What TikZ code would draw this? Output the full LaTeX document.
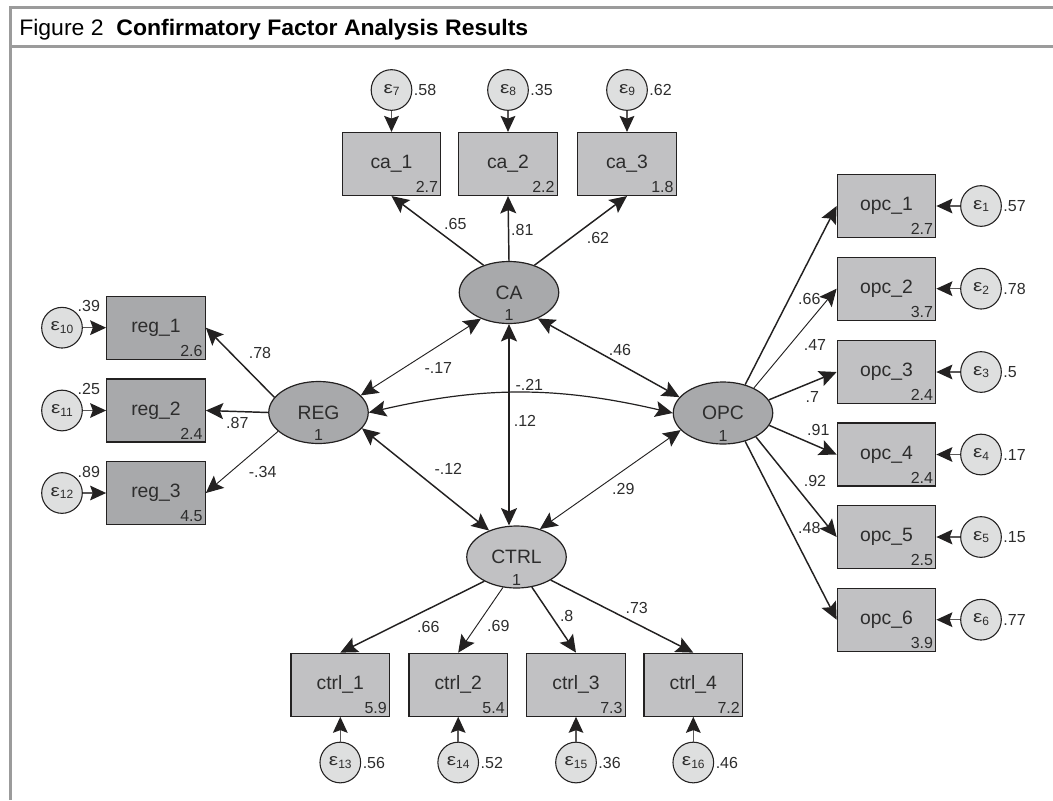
\documentclass[tikz,border=0pt]{standalone}
\usepackage{fontspec}
\setmainfont{Liberation Sans}
\usetikzlibrary{arrows.meta,shapes.geometric}
\definecolor{boxlight}{RGB}{193,193,195}
\definecolor{boxdark}{RGB}{168,169,171}
\definecolor{errfill}{RGB}{222,223,223}
\definecolor{ink}{RGB}{35,33,33}
\definecolor{txt}{RGB}{45,45,45}
\definecolor{framegray}{RGB}{155,155,155}
\newcommand{\epsl}[1]{\scalebox{1.25}[1]{ε}\raisebox{-0.3ex}{\fontsize{9}{9}\selectfont #1}}
\begin{document}
\begin{tikzpicture}[x=0.75pt,y=-0.75pt,
  obs/.style={draw=ink, line width=0.9pt, rectangle, minimum width=73.9pt, minimum height=47.2pt, inner sep=0pt, font=\fontsize{14.5}{14.5}\selectfont, text=txt},
  obsL/.style={obs, fill=boxlight},
  obsD/.style={obs, fill=boxdark},
  lat/.style={draw=ink, line width=0.9pt, ellipse, minimum width=74.6pt, minimum height=46.5pt, inner sep=0pt, font=\fontsize{14.5}{14.5}\selectfont, text=txt},
  err/.style={draw=ink, line width=0.8pt, circle, fill=errfill, minimum size=30.5pt, inner sep=0pt, font=\fontsize{12.5}{12.5}\selectfont, text=txt},
  num/.style={font=\fontsize{12}{12}\selectfont, text=txt, inner sep=1pt},
  cnum/.style={num, anchor=south east, inner sep=2.3pt},
  enum/.style={num, anchor=west, inner sep=1pt},
  tip/.tip={Stealth[length=13pt,width=12pt,inset=2.5pt]},
  errtip/.tip={Stealth[length=12pt,width=11pt,inset=2pt,color=ink]},
  thk/.style={draw=ink, line width=1.1pt, -tip},
  thn/.style={draw=ink, line width=0.7pt, -tip},
  both/.style={tip-tip},
  erra/.style={draw=ink!75, line width=1.1pt, -errtip}
]
\useasboundingbox (0,0) rectangle (1053,800);
% frame
\draw[framegray, line width=2.25pt] (10.5,800) -- (10.5,7.5) -- (1053,7.5);
\draw[framegray, line width=2.25pt] (10.5,46) -- (1053,46);
\node[anchor=base west, inner sep=0pt] (title) at (19,35) {\resizebox{381.75pt}{12.2pt}{Figure 2\hspace{0.55em}\textbf{Confirmatory Factor Analysis Results}}};

% latent variables
\node[lat, fill=boxdark, label={[num,anchor=south,inner sep=2.5pt]south:1}] (CA) at (509,292.5) {CA};
\node[lat, fill=boxdark, label={[num,anchor=south,inner sep=2.5pt]south:1}] (REG) at (318.5,412.5) {REG};
\node[lat, fill=boxdark, label={[num,anchor=south,inner sep=2.5pt]south:1}] (OPC) at (723,413) {OPC};
\node[lat, fill=boxlight, label={[num,anchor=south,inner sep=2.5pt]south:1}] (CTRL) at (516.5,557) {CTRL};

% ca indicators
\node[obsL, label={[cnum]south east:2.7}] (ca1) at (391.5,164) {ca\_1};
\node[obsL, label={[cnum]south east:2.2}] (ca2) at (508,164) {ca\_2};
\node[obsL, label={[cnum]south east:1.8}] (ca3) at (627,164) {ca\_3};
\node[err, label={[enum]east:.58}] (e7) at (391.5,90) {\epsl{7}};
\node[err, label={[enum]east:.35}] (e8) at (508,90) {\epsl{8}};
\node[err, label={[enum]east:.62}] (e9) at (627,90) {\epsl{9}};

% reg indicators
\node[obsD, label={[cnum]south east:2.6}] (reg1) at (156,327.7) {reg\_1};
\node[obsD, label={[cnum]south east:2.4}] (reg2) at (156,410.5) {reg\_2};
\node[obsD, label={[cnum]south east:4.5}] (reg3) at (156,493) {reg\_3};
\node[err, label={[num,anchor=south west,inner sep=0.5pt]north east:.39}] (e10) at (62,327.7) {\epsl{10}};
\node[err, label={[num,anchor=south west,inner sep=0.5pt]north east:.25}] (e11) at (62,410.5) {\epsl{11}};
\node[err, label={[num,anchor=south west,inner sep=0.5pt]north east:.89}] (e12) at (62,493) {\epsl{12}};

% opc indicators
\node[obsL, label={[cnum]south east:2.7}] (opc1) at (886.5,206) {opc\_1};
\node[obsL, label={[cnum]south east:3.7}] (opc2) at (886.5,288.7) {opc\_2};
\node[obsL, label={[cnum]south east:2.4}] (opc3) at (886.5,372) {opc\_3};
\node[obsL, label={[cnum]south east:2.4}] (opc4) at (886.5,454.5) {opc\_4};
\node[obsL, label={[cnum]south east:2.5}] (opc5) at (886.5,537) {opc\_5};
\node[obsL, label={[cnum]south east:3.9}] (opc6) at (886.5,619.7) {opc\_6};
\node[err, label={[enum]east:.57}] (e1) at (981,206) {\epsl{1}};
\node[err, label={[enum]east:.78}] (e2) at (981,288.7) {\epsl{2}};
\node[err, label={[enum]east:.5}] (e3) at (981,372) {\epsl{3}};
\node[err, label={[enum]east:.17}] (e4) at (981,454.5) {\epsl{4}};
\node[err, label={[enum]east:.15}] (e5) at (981,537) {\epsl{5}};
\node[err, label={[enum]east:.77}] (e6) at (981,619.7) {\epsl{6}};

% ctrl indicators
\node[obsL, label={[cnum]south east:5.9}] (ctrl1) at (340.3,684.7) {ctrl\_1};
\node[obsL, label={[cnum]south east:5.4}] (ctrl2) at (458.2,684.7) {ctrl\_2};
\node[obsL, label={[cnum]south east:7.3}] (ctrl3) at (576,684.7) {ctrl\_3};
\node[obsL, label={[cnum]south east:7.2}] (ctrl4) at (693.3,684.7) {ctrl\_4};
\node[err, label={[enum]east:.56}] (e13) at (340.3,762.5) {\epsl{13}};
\node[err, label={[enum]east:.52}] (e14) at (458.2,762.5) {\epsl{14}};
\node[err, label={[enum]east:.36}] (e15) at (576,762.5) {\epsl{15}};
\node[err, label={[enum]east:.46}] (e16) at (693.3,762.5) {\epsl{16}};

% error arrows
\foreach \e/\b in {e7/ca1,e8/ca2,e9/ca3,e10/reg1,e11/reg2,e12/reg3,e1/opc1,e2/opc2,e3/opc3,e4/opc4,e5/opc5,e6/opc6,e13/ctrl1,e14/ctrl2,e15/ctrl3,e16/ctrl4}
  \draw[erra] (\e) -- (\b);

% loadings
\draw[thk] (CA.133) -- (ca1.south);
\draw[thk] (CA.90) -- (ca2.south);
\draw[thk] (CA.47) -- (ca3.south);
\draw[thk] (REG.161) -- (reg1.east);
\draw[thk] (REG.180) -- (reg2.east);
\draw[thn] (REG.205) -- (reg3.east);
\draw[thk] (OPC.52) -- (opc1.west);
\draw[thn] (OPC.39) -- (opc2.west);
\draw[thk] (OPC.16) -- (opc3.west);
\draw[thk] (OPC.-15) -- (opc4.west);
\draw[thk] (OPC.-36) -- (opc5.west);
\draw[thk] (OPC.-52) -- (opc6.west);
\draw[thk] (CTRL.217) -- (ctrl1.north);
\draw[thn] (CTRL.246) -- (ctrl2.north);
\draw[thk] (CTRL.297) -- (ctrl3.north);
\draw[thk] (CTRL.326) -- (ctrl4.north);

% covariances
\draw[thn, both] (CA.223) -- (REG.22);
\draw[thk, both] (CA.-42) -- (OPC.160);
\draw[thk, both] (CA.south) -- (CA.south |- CTRL.north);
\draw[draw=ink, line width=0.9pt, both] (REG.east) to[bend left=13] (OPC.west);
\draw[thk, both] (REG.-20) -- (CTRL.136);
\draw[thn, both] (OPC.202) -- (CTRL.50);

% path labels
\node[num] (l1) at (455.3,224) {.65};
\node[num] (l2) at (522.3,230) {.81};
\node[num] (l3) at (598,238.3) {.62};
\node[num] (l4) at (260,353.3) {.78};
\node[num] (l5) at (237.3,423.3) {.87};
\node[num] (l6) at (262.7,471.7) {-.34};
\node[num] (l7) at (438.3,368.3) {-.17};
\node[num] (l8) at (620,350) {.46};
\node[num] (l9) at (529.3,385) {-.21};
\node[num] (l10) at (525,420.7) {.12};
\node[num] (l11) at (448.3,469) {-.12};
\node[num] (l12) at (623.3,489.3) {.29};
\node[num] (l13) at (428.3,626.7) {.66};
\node[num] (l14) at (498.3,625.7) {.69};
\node[num] (l15) at (566.7,616) {.8};
\node[num] (l16) at (636.7,607.7) {.73};
\node[num] (l17) at (809.3,299.3) {.66};
\node[num] (l18) at (815,345) {.47};
\node[num] (l19) at (812.3,397.3) {.7};
\node[num] (l20) at (818.3,430) {.91};
\node[num] (l21) at (815,480.7) {.92};
\node[num] (l22) at (809.3,528.3) {.48};
\end{tikzpicture}
\end{document}
